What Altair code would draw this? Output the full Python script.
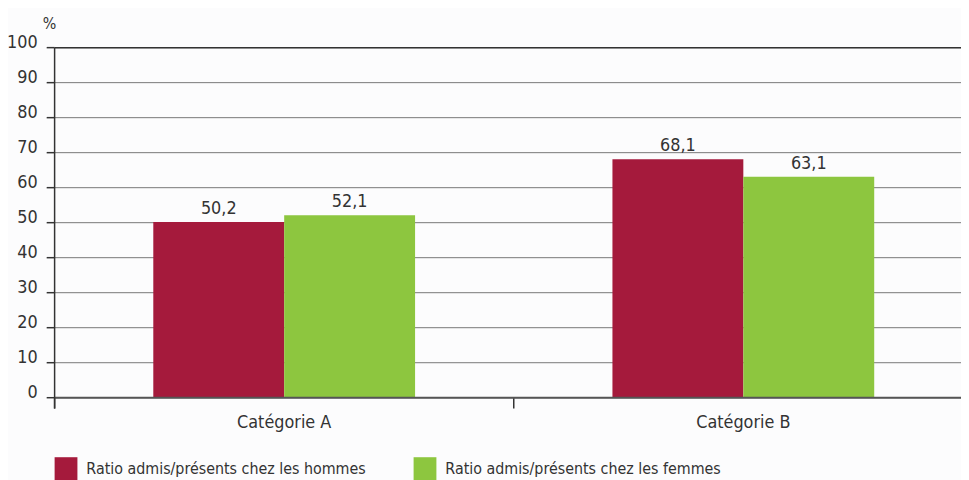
import altair as alt
import pandas as pd

categories = ["Catégorie A", "Catégorie B"]
series = ["Ratio admis/présents chez les hommes", "Ratio admis/présents chez les femmes"]
hommes = [50.2, 68.1]
femmes = [52.1, 63.1]
colors = ["#A51A3C", "#8DC63F"]
y_ticks = [0, 10, 20, 30, 40, 50, 60, 70, 80, 90, 100]
y_title = "%"

rows = []
for i, c in enumerate(categories):
    for s, vals in zip(series, [hommes, femmes]):
        v = vals[i]
        rows.append({"cat": c, "serie": s, "value": v,
                     "label": f"{v:.1f}".replace(".", ",")})
df = pd.DataFrame(rows)

FONT = "'Liberation Sans Narrow', 'DejaVu Sans Condensed', 'Roboto', sans-serif"
W, H = 914, 353

xscale = alt.Scale(domain=categories, range=[0, 926], paddingInner=0, paddingOuter=0)
yscale = alt.Scale(domain=[0, 100], nice=False)
offscale = alt.Scale(domain=series, paddingInner=0, paddingOuter=0.754)

x_axis = alt.Axis(title=None, ticks=False, domain=False, grid=False, labelFontSize=18,
                  labelColor="#333", labelPadding=16, labelAngle=0, labelFont=FONT)

tick_df = pd.DataFrame({"t": y_ticks})
grid = alt.Chart(tick_df).mark_rule(color="#777", strokeWidth=1).encode(
    y=alt.Y("t:Q", scale=yscale, axis=None),
    x=alt.value(0), x2=alt.value(W),
)
yticks = alt.Chart(tick_df).mark_rule(color="#333", strokeWidth=1.5).encode(
    y=alt.Y("t:Q", scale=yscale, axis=None),
    x=alt.value(-8), x2=alt.value(0),
)
ylabels = alt.Chart(tick_df).mark_text(align="right", baseline="middle", dy=-5, fontSize=18,
                                       font=FONT, color="#333").encode(
    y=alt.Y("t:Q", scale=yscale, axis=None),
    x=alt.value(-17),
    text="t:Q",
)
title_df = pd.DataFrame({"txt": [y_title]})
ytitle = alt.Chart(title_df).mark_text(align="left", baseline="bottom", fontSize=16,
                                       font=FONT, color="#333").encode(
    x=alt.value(-12), y=alt.value(-16), text="txt:N",
)

base = alt.Chart(df)

bars = base.mark_bar().encode(
    x=alt.X("cat:N", scale=xscale, sort=categories, axis=x_axis),
    xOffset=alt.XOffset("serie:N", sort=series, scale=offscale),
    y=alt.Y("value:Q", scale=yscale, axis=None),
    color=alt.Color("serie:N", sort=series,
                    scale=alt.Scale(domain=series, range=colors),
                    legend=alt.Legend(title=None, orient="none", legendX=0, legendY=413,
                                      direction="horizontal", symbolType="square",
                                      symbolSize=529, symbolStrokeWidth=0,
                                      labelFontSize=16, labelFont=FONT, labelColor="#333",
                                      labelOffset=9, columnPadding=48, padding=0,
                                      labelLimit=400)),
)

labels = base.mark_text(baseline="bottom", dy=-4, fontSize=18, font=FONT, color="#333").encode(
    x=alt.X("cat:N", scale=xscale, sort=categories, axis=x_axis),
    xOffset=alt.XOffset("serie:N", sort=series, scale=offscale),
    y=alt.Y("value:Q", scale=yscale, axis=None),
    text="label:N",
)

cat_df = pd.DataFrame({"cat": categories})
xticks = alt.Chart(cat_df).mark_rule(color="#333", strokeWidth=1.5).encode(
    x=alt.X("cat:N", scale=xscale, sort=categories, bandPosition=0, axis=x_axis),
    y=alt.value(H),
    y2=alt.value(H + 11),
)

ydomain = alt.Chart(title_df).mark_rule(color="#333", strokeWidth=1.5).encode(
    x=alt.value(0), y=alt.value(0), y2=alt.value(H + 11),
)

top_df = pd.DataFrame({"v": [100]})
top_line = alt.Chart(top_df).mark_rule(color="#333", strokeWidth=1.5).encode(
    y=alt.Y("v:Q", scale=yscale, axis=None),
)
base_df = pd.DataFrame({"v": [0]})
base_line = alt.Chart(base_df).mark_rule(color="#555", strokeWidth=2).encode(
    y=alt.Y("v:Q", scale=yscale, axis=None),
)

chart = alt.layer(grid, bars, labels, xticks, top_line, base_line, ydomain,
                  yticks, ylabels, ytitle).properties(
    width=W, height=H,
    autosize=alt.AutoSizeParams(type="none"),
    padding={"left": 47, "top": 38, "right": 0, "bottom": 81},
    background="#fcfcfd",
).configure_view(stroke=None)

chart.save("out.html", embed_options={"renderer": "svg", "actions": False})
